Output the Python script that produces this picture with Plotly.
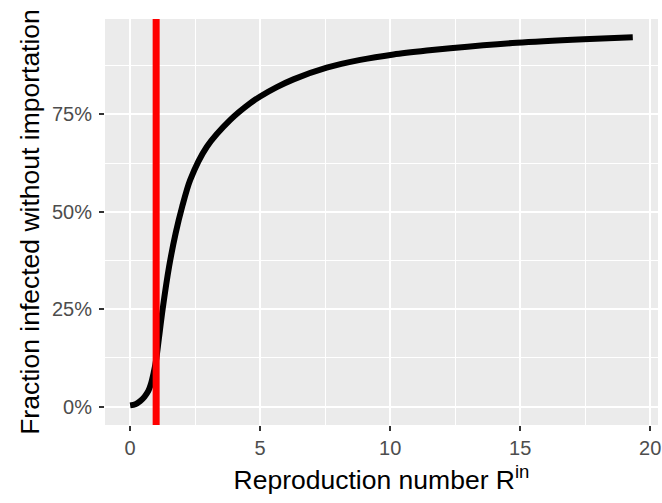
import plotly.graph_objects as go

# Curve
R_in = [0.0, 0.2, 0.385, 0.55, 0.70, 0.80, 0.9, 1.0, 1.1, 1.25, 1.5, 1.75, 2.0, 2.31,
        2.95, 3.85, 4.62, 5.0, 5.64, 6.28, 7.56, 8.85, 10.13, 11.41, 12.31,
        14.87, 17.44, 19.33]
fraction = [0.003, 0.006, 0.014, 0.025, 0.040, 0.058, 0.085, 0.120, 0.172, 0.250, 0.360, 0.445,
            0.513, 0.582, 0.667, 0.736, 0.779, 0.796, 0.820, 0.840, 0.870, 0.890,
            0.904, 0.914, 0.920, 0.934, 0.943, 0.948]
threshold_R = 1

x_ticks = [0, 5, 10, 15, 20]
x_minor = [2.5, 7.5, 12.5, 17.5]
y_ticks = [0, 0.25, 0.5, 0.75]
y_minor = [0.125, 0.375, 0.625, 0.875]

FONT = "Liberation Sans, Arial, Helvetica, sans-serif"

fig = go.Figure()
fig.add_trace(go.Scatter(x=R_in, y=fraction, mode="lines",
                         line=dict(color="black", width=6, shape="spline", smoothing=0.8),
                         hoverinfo="skip", showlegend=False))
fig.add_vline(x=threshold_R, line=dict(color="#FF0000", width=7), layer="above")

fig.update_layout(
    template="none",
    width=662, height=503,
    margin=dict(l=105, r=4, t=19, b=78),
    paper_bgcolor="white", plot_bgcolor="#EBEBEB",
    font=dict(family=FONT, color="black"),
    showlegend=False,
)
fig.update_xaxes(
    automargin=False,
    range=[-0.967, 20.3], tickvals=x_ticks, ticktext=[str(v) for v in x_ticks],
    showgrid=True, gridcolor="white", gridwidth=2, zeroline=False,
    ticks="outside", ticklen=5, tickwidth=2, tickcolor="#333333",
    tickfont=dict(size=20, color="#4D4D4D", family=FONT),
    minor=dict(tickvals=x_minor, showgrid=True, gridcolor="white", gridwidth=1, ticks=""),
    title=dict(text="Reproduction number R<sup>in</sup>", font=dict(size=26.5, color="black", family=FONT), standoff=12),
    showline=False,
)
fig.update_yaxes(
    automargin=False,
    range=[-0.0473, 0.995], tickvals=y_ticks, tickformat=".0%",
    showgrid=True, gridcolor="white", gridwidth=2, zeroline=False,
    ticks="outside", ticklen=5, tickwidth=2, tickcolor="#333333",
    tickfont=dict(size=20, color="#4D4D4D", family=FONT),
    ticklabelstandoff=3,
    minor=dict(tickvals=y_minor, showgrid=True, gridcolor="white", gridwidth=1, ticks=""),
    title=dict(text="Fraction infected without importation", font=dict(size=26.5, color="black", family=FONT), standoff=4),
    showline=False,
)

fig.write_html("out.html", config={"displayModeBar": False},
               post_script="document.body.style.margin='0';")
